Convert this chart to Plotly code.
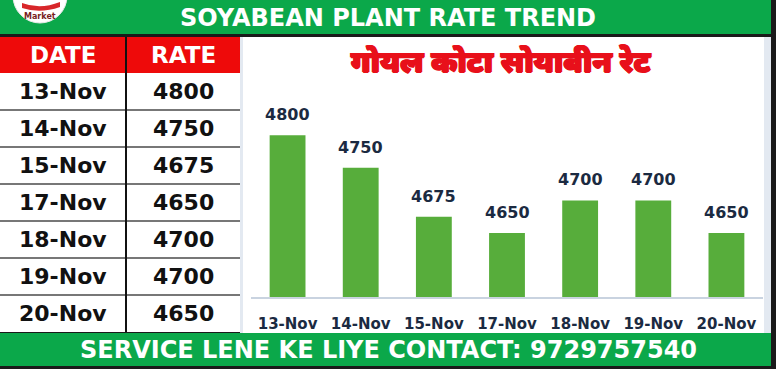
import plotly.graph_objects as go

# ---- data ----
dates = ["13-Nov", "14-Nov", "15-Nov", "17-Nov", "18-Nov", "19-Nov", "20-Nov"]
rates = [4800, 4750, 4675, 4650, 4700, 4700, 4650]
header = ["DATE", "RATE"]
title_text = "SOYABEAN PLANT RATE TREND"
chart_title = "गोयल कोटा सोयाबीन रेट"
footer_text = "SERVICE LENE KE LIYE CONTACT: 9729757540"

W, H = 776, 369
GREEN = "#0ba84a"
RED = "#ee0a0a"
BAR = "#57ad3b"
NAVY = "#1b2a41"
FONT = "DejaVu Sans"


def px(x):
    return x / W


def py(y):
    return 1 - y / H


def rect(x0, y0, x1, y1, fill, line_color=None, line_width=0, layer="below"):
    return dict(type="rect", xref="paper", yref="paper",
                x0=px(x0), x1=px(x1), y0=py(y1), y1=py(y0),
                fillcolor=fill, layer=layer,
                line=dict(color=line_color or fill, width=line_width))


def hline(x0, x1, y, color, width=1.5):
    return dict(type="line", xref="paper", yref="paper",
                x0=px(x0), x1=px(x1), y0=py(y), y1=py(y),
                line=dict(color=color, width=width), layer="below")


def vline(x, y0, y1, color, width=1.5):
    return dict(type="line", xref="paper", yref="paper",
                x0=px(x), x1=px(x), y0=py(y0), y1=py(y1),
                line=dict(color=color, width=width), layer="below")


def label(text, x, y, size, color, family=FONT, **fontkw):
    font = dict(family=family, size=size, color=color)
    font.update(fontkw)
    return dict(text=text, x=px(x), y=py(y), xref="paper", yref="paper",
                xanchor="center", yanchor="middle", showarrow=False, font=font)


shapes = []
# outer frame / background
shapes.append(rect(0, 0, W, H, "#1a1a1a"))
# top green band
shapes.append(rect(0, 0, 771, 34, GREEN))
# red table header
shapes.append(rect(0, 37, 240, 73, RED))
# table body
shapes.append(rect(0, 73, 240, 332, "#ffffff"))
# chart panel (light border + white)
shapes.append(rect(240, 37, 771, 333, "#e3e9f1"))
shapes.append(rect(243, 37, 764, 333, "#ffffff"))
# bottom green band
shapes.append(rect(0, 333, 771, 366, GREEN))

# table grid
row_top = 73
row_h = (332 - 73) / len(dates)
for i in range(1, len(dates)):
    shapes.append(hline(0, 240, row_top + i * row_h, "#4a4a4a", 1.5))
shapes.append(vline(126, 37, 332, "#111111", 2))

# logo (partially cut off at top-left)
shapes.append(dict(type="circle", xref="paper", yref="paper",
                   x0=px(13), x1=px(67), y0=py(23), y1=py(-31),
                   fillcolor="#ffffff", line=dict(color="#e9e9e9", width=1), layer="below"))
shapes.append(dict(type="path", xref="paper", yref="paper",
                   path=f"M {px(22)},{py(3)} Q {px(40)},{py(10)} {px(60)},{py(2)} L {px(60)},{py(7)} Q {px(40)},{py(14)} {px(22)},{py(8)} Z",
                   fillcolor="#d8262a", line=dict(width=0), layer="below"))

annotations = []
annotations.append(label("<b>Market</b>", 40, 16, 8, "#7a1f1f"))
# top title
annotations.append(label(f"<b>{title_text}</b>", 388, 18, 24, "#ffffff"))
# footer
annotations.append(label(f"<b>{footer_text}</b>", 388, 350, 24, "#ffffff"))
# chart title (Hindi) - heavy weight
red_t = "#e8101a"
annotations.append(label(chart_title, 501, 64, 30, red_t,
                         family="Noto Sans Devanagari, Noto Sans, sans-serif",
                         weight=900,
                         shadow=f"0.9px 0 0 {red_t}, -0.9px 0 0 {red_t}, 0 0.6px 0 {red_t}, 0 -0.4px 0 {red_t}"))

# table header
col_x = [63, 183]
for cx, h in zip(col_x, header):
    annotations.append(label(f"<b>{h}</b>", cx, 55, 23, "#ffffff"))
# table rows
for i, (d, r) in enumerate(zip(dates, rates)):
    cy = row_top + (i + 0.5) * row_h
    annotations.append(label(f"<b>{d}</b>", col_x[0], cy, 22, "#111111"))
    annotations.append(label(f"<b>{r}</b>", col_x[1], cy, 22, "#111111"))

# bar value labels
for d, r in zip(dates, rates):
    annotations.append(dict(text=f"<b>{r}</b>", x=d, y=r, xref="x", yref="y",
                            xanchor="center", yanchor="bottom", yshift=9, showarrow=False,
                            font=dict(family=FONT, size=16, color=NAVY)))

fig = go.Figure(go.Bar(x=dates, y=rates, marker=dict(color=BAR, line=dict(width=0)),
                       hoverinfo="skip"))

fig.update_layout(
    width=W, height=H,
    margin=dict(l=0, r=0, t=0, b=0),
    paper_bgcolor="#ffffff",
    plot_bgcolor="rgba(0,0,0,0)",
    showlegend=False,
    bargap=0.51,
    shapes=shapes,
    annotations=annotations,
    xaxis=dict(domain=[px(251), px(763)], showline=True, linecolor="#c9d3e0", linewidth=2,
               showgrid=False, zeroline=False, ticks="", ticklabelstandoff=12,
               tickfont=dict(family=FONT, size=15, color=NAVY),
               tickvals=dates, ticktext=[f"<b>{d}</b>" for d in dates], fixedrange=True),
    yaxis=dict(domain=[py(297), py(100)], range=[4552, 4854], visible=False,
               showgrid=False, zeroline=False, fixedrange=True),
)

fig.write_html("out.html", config={"displayModeBar": False},
               post_script="document.body.style.margin='0';")
